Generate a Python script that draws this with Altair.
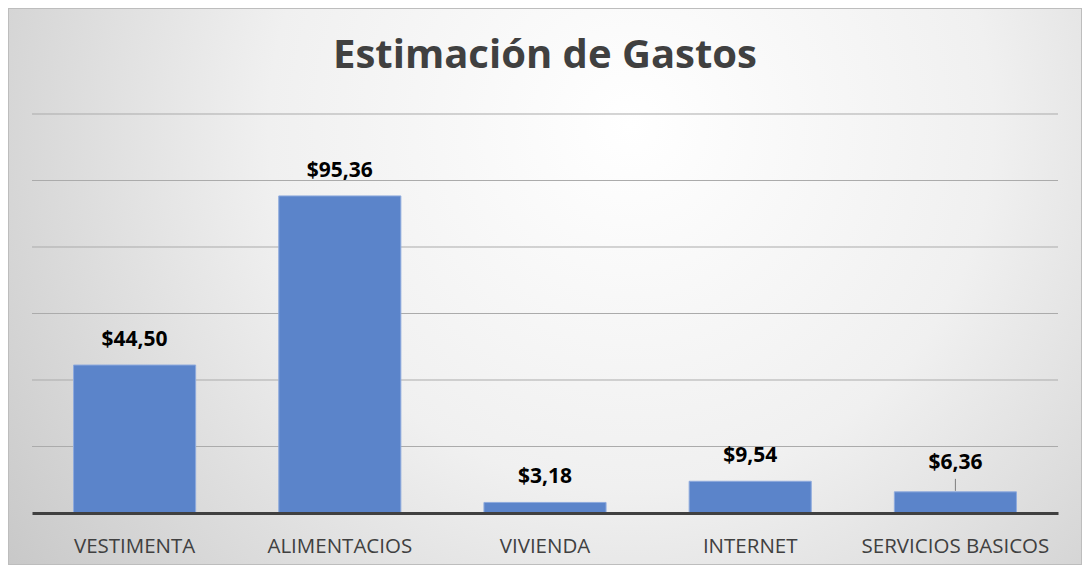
import altair as alt
import pandas as pd

categories = ["VESTIMENTA", "ALIMENTACIOS", "VIVIENDA", "INTERNET", "SERVICIOS BASICOS"]
values = [44.50, 95.36, 3.18, 9.54, 6.36]
labels = ["$44,50", "$95,36", "$3,18", "$9,54", "$6,36"]
grid_values = [20, 40, 60, 80, 100, 120]
title_text = "Estimación de Gastos"

df = pd.DataFrame({"cat": categories, "value": values, "label": labels})
grid_df = pd.DataFrame({"g": grid_values})

W, H = 1026, 399
FONT = "Open Sans"

xenc = alt.X(
    "cat:N",
    sort=categories,
    scale=alt.Scale(paddingInner=0.405, paddingOuter=0.2025),
    axis=alt.Axis(
        title=None, labelAngle=0, ticks=False, tickSize=0,
        labelFont=FONT, labelFontSize=20.5, labelColor="#404040",
        labelPadding=39, labelBaseline="alphabetic", labelLimit=400,
        domainColor="#404040", domainWidth=3, zindex=1, grid=False,
    ),
)
yscale = alt.Scale(domain=[0, 120], nice=False)

bg = alt.Chart(alt.Data(values=[{"a": 1}])).mark_rect(
    color={
        "gradient": "radial",
        "x1": 0.58, "y1": 0.35, "r1": 0,
        "x2": 0.58, "y2": 0.35, "r2": 0.75,
        "stops": [
            {"offset": 0, "color": "#ffffff"},
            {"offset": 0.45, "color": "#f0f0f0"},
            {"offset": 1, "color": "#c4c4c4"},
        ],
    },
    stroke="#bdbdbd", strokeWidth=2,
).encode(
    x=alt.value(-24), x2=alt.value(W + 24), y=alt.value(-106), y2=alt.value(H + 52)
)

title = alt.Chart(alt.Data(values=[{"t": title_text}])).mark_text(
    font=FONT, fontSize=40, fontWeight="bold", color="#404040",
    baseline="alphabetic", align="center",
).encode(x=alt.value(W / 2), y=alt.value(-46), text="t:N")

grid = alt.Chart(grid_df).mark_rule(color="#ababab", strokeWidth=1).encode(
    y=alt.Y("g:Q", scale=yscale, axis=None)
)

bars = alt.Chart(df).mark_bar(color="#5b84ca", stroke="#8eaadd", strokeWidth=1).encode(
    x=xenc,
    y=alt.Y("value:Q", scale=yscale, axis=None),
)

text_main = alt.Chart(df).transform_filter(
    alt.datum.cat != "SERVICIOS BASICOS"
).mark_text(
    font=FONT, fontSize=21, fontWeight="bold", color="#000000",
    baseline="alphabetic", dy=-19,
).encode(
    x=alt.X("cat:N", sort=categories), y=alt.Y("value:Q", scale=yscale), text="label:N"
)

text_sb = alt.Chart(df).transform_filter(
    alt.datum.cat == "SERVICIOS BASICOS"
).mark_text(
    font=FONT, fontSize=21, fontWeight="bold", color="#000000",
    baseline="alphabetic", dy=-23,
).encode(
    x=alt.X("cat:N", sort=categories), y=alt.Y("value:Q", scale=yscale), text="label:N"
)

leader = alt.Chart(df).transform_filter(
    alt.datum.cat == "SERVICIOS BASICOS"
).mark_rule(color="#7f7f7f", strokeWidth=1, yOffset=-1, y2Offset=-13).encode(
    x=alt.X("cat:N", sort=categories),
    y=alt.Y("value:Q", scale=yscale),
    y2="value:Q",
)

chart = alt.layer(bg, title, grid, bars, leader, text_main, text_sb).properties(
    width=W, height=H,
    autosize=alt.AutoSizeParams(type="none"),
    padding={"left": 24, "top": 106, "right": 24, "bottom": 52},
).configure_view(stroke=None).configure(background="#ffffff")

chart.save("out.html", embed_options={"renderer": "svg", "actions": False})
